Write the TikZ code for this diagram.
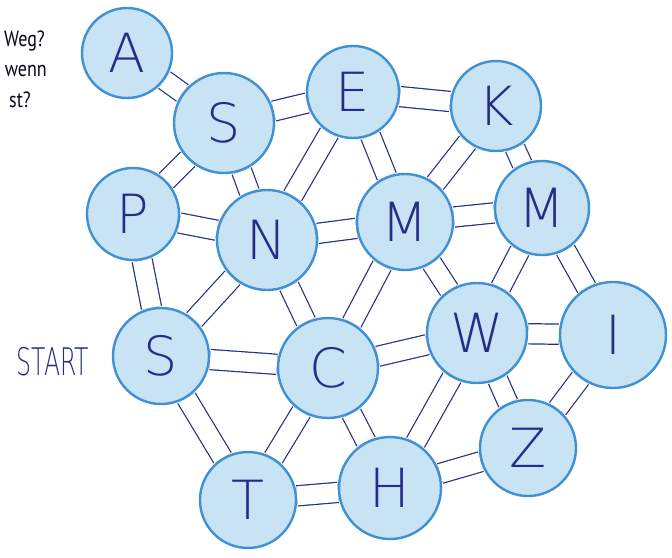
\documentclass[tikz,border=0pt]{standalone}
\usepackage{fontspec}
\usetikzlibrary{backgrounds}
\newfontfamily\handfont{DejaVu Sans ExtraLight}
\newfontfamily\notefont{PT Sans}
\definecolor{ink}{HTML}{262D88}
\definecolor{ballfill}{HTML}{C8E3F4}
\definecolor{ballline}{HTML}{4090D4}
\tikzset{
  ball/.style={circle, fill=ballfill, draw=ballline, line width=2.4pt,
    inner sep=0pt, text=ink, font=\handfont\fontsize{54}{54}\selectfont},
  bridge/.style={draw=ink, line width=1.2pt, double=white, double distance=19pt},
  note/.style={anchor=east, text=ink!15!black, font=\notefont\fontsize{22}{22}\selectfont, inner sep=0pt}
}
\begin{document}
\begin{tikzpicture}[x=1pt, y=-1pt]
\useasboundingbox (0,0) rectangle (672,557);

% question text at the top left
\node[note] (q1) at (45,41) {\scalebox{0.82}[1]{Weg?}};
\node[note] (q2) at (47,71) {\scalebox{0.82}[1]{wenn}};
\node[note] (q3) at (31,100) {\scalebox{0.82}[1]{st?}};

% letter balls
\node[ball, minimum size=90pt]  (A)  at (127,53)  {A};
\node[ball, minimum size=100pt] (S1) at (224,123) {S};
\node[ball, minimum size=92pt]  (E)  at (353,92)  {E};
\node[ball, minimum size=90pt]  (K)  at (496,106) {K};
\node[ball, minimum size=92pt]  (P)  at (133,214) {P};
\node[ball, minimum size=100pt] (N)  at (267,240) {N};
\node[ball, minimum size=96pt]  (M1) at (405,222) {M};
\node[ball, minimum size=94pt]  (M2) at (542,208) {M};
\node[ball, minimum size=96pt]  (S2) at (161,356) {S};
\node[ball, minimum size=100pt] (C)  at (328,368) {C};
\node[ball, minimum size=100pt] (W)  at (477,333) {W};
\node[ball, minimum size=106pt] (I)  at (613,335) {I};
\node[ball, minimum size=96pt]  (Z)  at (528,448) {Z};
\node[ball, minimum size=102pt] (H)  at (390,488) {H};
\node[ball, minimum size=96pt]  (T)  at (248,500) {T};

\node[text=ink, font=\handfont\fontsize{38}{38}\selectfont, inner sep=0pt] (start) at (53,362) {\scalebox{0.62}[1]{START}};

% bridges between the balls, behind them
\begin{scope}[on background layer]
\fill[white] (0,0) rectangle (672,557);
\foreach \u/\v in {A/S1, S1/E, S1/P, S1/N, E/K, E/N, E/M1, K/M1, K/M2,
                   P/N, P/S2, N/M1, N/S2, N/C, M1/M2, M1/C, M1/W, M2/W, M2/I,
                   S2/C, S2/T, C/W, C/T, C/H, W/I, W/Z, W/H, I/Z, Z/H, T/H}
  \draw[bridge] (\u) -- (\v);
\end{scope}
\end{tikzpicture}
\end{document}
